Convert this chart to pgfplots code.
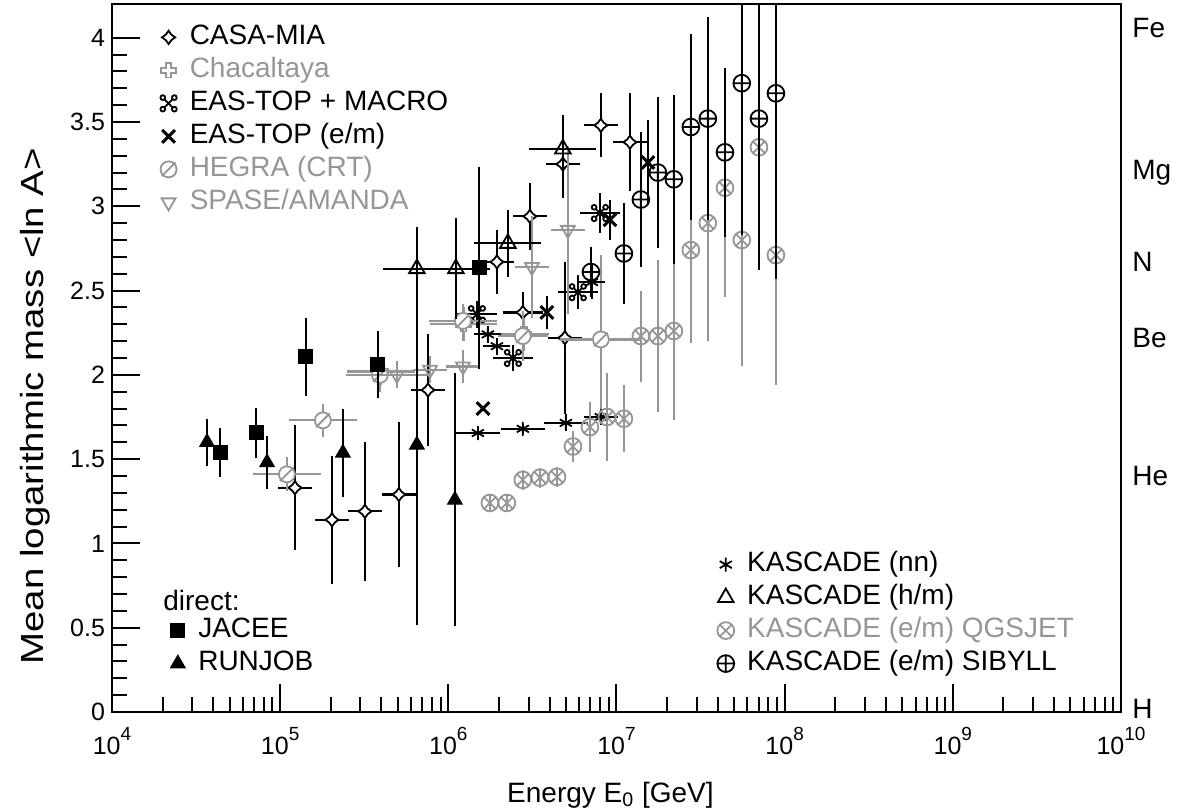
\documentclass[border=0pt]{standalone}
\usepackage{graphicx}
\usepackage{pgfplots}
\pgfplotsset{compat=1.18}
\usepackage{fontspec}
\setmainfont{Liberation Sans}
\usetikzlibrary{plotmarks}
\definecolor{mygray}{RGB}{150,150,150}

\pgfdeclareplotmark{opencross}{%
  \pgfmathsetlengthmacro\mka{\pgfplotmarksize}%
  \pgfmathsetlengthmacro\mkw{0.38*\pgfplotmarksize}%
  \pgfpathmoveto{\pgfpoint{-\mkw}{-\mka}}%
  \pgfpathlineto{\pgfpoint{\mkw}{-\mka}}%
  \pgfpathlineto{\pgfpoint{\mkw}{-\mkw}}%
  \pgfpathlineto{\pgfpoint{\mka}{-\mkw}}%
  \pgfpathlineto{\pgfpoint{\mka}{\mkw}}%
  \pgfpathlineto{\pgfpoint{\mkw}{\mkw}}%
  \pgfpathlineto{\pgfpoint{\mkw}{\mka}}%
  \pgfpathlineto{\pgfpoint{-\mkw}{\mka}}%
  \pgfpathlineto{\pgfpoint{-\mkw}{\mkw}}%
  \pgfpathlineto{\pgfpoint{-\mka}{\mkw}}%
  \pgfpathlineto{\pgfpoint{-\mka}{-\mkw}}%
  \pgfpathlineto{\pgfpoint{-\mkw}{-\mkw}}%
  \pgfpathclose
  \pgfusepathqfillstroke}
\pgfdeclareplotmark{cdiamond}{%
  \pgfmathsetlengthmacro\mka{\pgfplotmarksize}%
  \pgfmathsetlengthmacro\mkw{0.42*\pgfplotmarksize}%
  \pgfpathmoveto{\pgfpoint{0pt}{\mka}}%
  \pgfpathlineto{\pgfpoint{\mkw}{\mkw}}%
  \pgfpathlineto{\pgfpoint{\mka}{0pt}}%
  \pgfpathlineto{\pgfpoint{\mkw}{-\mkw}}%
  \pgfpathlineto{\pgfpoint{0pt}{-\mka}}%
  \pgfpathlineto{\pgfpoint{-\mkw}{-\mkw}}%
  \pgfpathlineto{\pgfpoint{-\mka}{0pt}}%
  \pgfpathlineto{\pgfpoint{-\mkw}{\mkw}}%
  \pgfpathclose
  \pgfusepathqfillstroke}
\pgfdeclareplotmark{oslash}{%
  \pgfpathcircle{\pgfpointorigin}{\pgfplotmarksize}%
  \pgfusepathqfillstroke
  \pgfpathmoveto{\pgfpoint{-0.85\pgfplotmarksize}{-0.85\pgfplotmarksize}}%
  \pgfpathlineto{\pgfpoint{0.85\pgfplotmarksize}{0.85\pgfplotmarksize}}%
  \pgfusepathqstroke}
\pgfdeclareplotmark{cmdkey}{%
  \pgfpathmoveto{\pgfpoint{-0.5\pgfplotmarksize}{-0.5\pgfplotmarksize}}%
  \pgfpathlineto{\pgfpoint{0.5\pgfplotmarksize}{0.5\pgfplotmarksize}}%
  \pgfpathmoveto{\pgfpoint{-0.5\pgfplotmarksize}{0.5\pgfplotmarksize}}%
  \pgfpathlineto{\pgfpoint{0.5\pgfplotmarksize}{-0.5\pgfplotmarksize}}%
  \pgfpathcircle{\pgfpoint{0.72\pgfplotmarksize}{0.72\pgfplotmarksize}}{0.3\pgfplotmarksize}%
  \pgfpathcircle{\pgfpoint{-0.72\pgfplotmarksize}{0.72\pgfplotmarksize}}{0.3\pgfplotmarksize}%
  \pgfpathcircle{\pgfpoint{0.72\pgfplotmarksize}{-0.72\pgfplotmarksize}}{0.3\pgfplotmarksize}%
  \pgfpathcircle{\pgfpoint{-0.72\pgfplotmarksize}{-0.72\pgfplotmarksize}}{0.3\pgfplotmarksize}%
  \pgfusepathqstroke}

\newcommand\ex[1]{10\raisebox{7pt}{\fontsize{9.5}{9.5}\selectfont #1}}

\pgfplotsset{
  base/.style={scale only axis, width=504.5pt, height=354pt,
    xmin=4, xmax=10, ymin=0, ymax=4.2, clip mode=individual},
  eb/.style={error bars/x dir=both, error bars/x explicit,
    error bars/y dir=both, error bars/y explicit,
    error bars/error mark=none,
    error bars/error bar style={line width=1.1pt, #1}},
  eb/.default=black,
  om/.style={only marks,
    legend image code/.code={\draw[mark repeat=2,mark phase=2] plot coordinates {(0pt,0pt)(4pt,0pt)(8pt,0pt)};}},
  leg/.style={legend style={draw=none, fill=none, inner sep=0pt, row sep=1.5pt, column sep=5.5pt,
    font=\fontsize{14}{16}\selectfont,
    nodes={inner sep=1pt, text height=10pt, text depth=3pt}}, legend cell align=left},
}

\begin{document}
\begin{tikzpicture}
\begin{axis}[base, leg,
  legend style={at={(rel axis cs:0.0476,0.9746)}, anchor=north west},
  xtick={4,5,6,7,8,9,10},
  xticklabels={\ex{4},\ex{5},\ex{6},\ex{7},\ex{8},\ex{9},\ex{10}},
  minor xtick={4.30103,4.47712,4.60206,4.69897,4.77815,4.84510,4.90309,4.95424,
    5.30103,5.47712,5.60206,5.69897,5.77815,5.84510,5.90309,5.95424,
    6.30103,6.47712,6.60206,6.69897,6.77815,6.84510,6.90309,6.95424,
    7.30103,7.47712,7.60206,7.69897,7.77815,7.84510,7.90309,7.95424,
    8.30103,8.47712,8.60206,8.69897,8.77815,8.84510,8.90309,8.95424,
    9.30103,9.47712,9.60206,9.69897,9.77815,9.84510,9.90309,9.95424},
  ytick={0,0.5,1,1.5,2,2.5,3,3.5,4},
  minor y tick num=4,
  tick align=inside, xtick pos=left, ytick pos=left,
  major tick length=14pt, minor tick length=7.5pt,
  every tick/.style={black, line width=1pt},
  axis line style={line width=1.4pt},
  /pgf/number format/assume math mode=true,
  tick label style={font=\fontsize{12.5}{14}\selectfont},
  xticklabel style={yshift=-4pt},
  xlabel={Energy E\textsubscript{0} [GeV]},
  xlabel style={font=\fontsize{14}{16}\selectfont, at={(rel axis cs:0.494,0)}, anchor=center, yshift=-41.5pt},
  ylabel={\scalebox{1.2}[1]{Mean logarithmic mass <ln A>}},
  ylabel style={font=\fontsize{16}{18}\selectfont, at={(rel axis cs:0,0.432)}, anchor=center, yshift=38.5pt},
]
% CASA-MIA
\addplot[om, black, mark=cdiamond, mark size=3.3pt, mark options={fill=white, line width=0.9pt}, eb] coordinates {
 (5.088,1.33) +- (0.1,0.37)
 (5.308,1.14) +- (0.1,0.38)
 (5.504,1.19) +- (0.1,0.41)
 (5.706,1.29) +- (0.1,0.43)
 (5.879,1.91) +- (0.1,0.33)
 (6.289,2.67) +- (0.1,0.19)
 (6.485,2.94) +- (0.1,0.20)
 (6.681,3.25) +- (0.1,0.20)
 (6.907,3.48) +- (0.1,0.19)
 (7.080,3.38) +- (0.1,0.29)
 (6.443,2.37) +- (0.12,0.12)
 (6.693,2.22) +- (0.1,0.45)
};
\addlegendentry{CASA-MIA}
% Chacaltaya
\addplot[om, mygray, mark=opencross, mark size=3.6pt, mark options={fill=white, line width=0.9pt}, eb=mygray] coordinates {
 (5.60,2.02) +- (0.2,0.08)
 (6.09,2.30) +- (0.2,0.10)
 (6.45,2.24) +- (0.15,0.10)
};
\addlegendentry[text=mygray]{Chacaltaya}
% EAS-TOP + MACRO
\addplot[om, black, mark=cmdkey, mark size=4pt, mark options={line width=0.9pt}, eb] coordinates {
 (6.170,2.36) +- (0.12,0.08)
 (6.384,2.10) +- (0.12,0.08)
 (6.770,2.49) +- (0.12,0.10)
 (6.901,2.96) +- (0.12,0.12)
};
\addlegendentry{EAS-TOP + MACRO}
% EAS-TOP (e/m)
\addplot[om, black, mark=x, mark size=4.5pt, mark options={line width=1.5pt}, eb] coordinates {
 (6.206,1.80) +- (0,0)
 (6.586,2.37) +- (0,0.10)
 (6.961,2.92) +- (0,0.12)
 (7.187,3.26) +- (0,0.25)
};
\addlegendentry{EAS-TOP (e/m)}
% HEGRA (CRT)
\addplot[om, mygray, mark=oslash, mark size=4pt, mark options={fill=white, line width=0.9pt}, eb=mygray] coordinates {
 (5.040,1.41) +- (0.2,0.10)
 (5.254,1.73) +- (0.2,0.10)
 (5.593,2.00) +- (0.2,0.10)
 (6.087,2.32) +- (0.2,0.10)
 (6.443,2.23) +- (0.15,0.15)
 (6.907,2.21) +- (0.24,0.50)
};
\addlegendentry[text=mygray]{HEGRA (CRT)}
% SPASE/AMANDA
\addplot[om, mygray, mark=triangle, mark size=4pt, mark options={fill=white, line width=0.9pt, rotate=180}, eb=mygray] coordinates {
 (5.694,2.00) +- (0.2,0.08)
 (5.891,2.03) +- (0.1,0.08)
 (6.087,2.05) +- (0.1,0.10)
 (6.497,2.64) +- (0.1,0.30)
 (6.711,2.86) +- (0.1,0.50)
};
\addlegendentry[text=mygray]{SPASE/AMANDA}

\node[anchor=west, inner sep=0pt, xshift=5.5pt, font=\fontsize{14}{16}\selectfont] at (axis cs:10,4.06) {Fe};
\node[anchor=west, inner sep=0pt, xshift=5.5pt, font=\fontsize{14}{16}\selectfont] at (axis cs:10,3.20) {Mg};
\node[anchor=west, inner sep=0pt, xshift=5.5pt, font=\fontsize{14}{16}\selectfont] at (axis cs:10,2.67) {N};
\node[anchor=west, inner sep=0pt, xshift=5.5pt, font=\fontsize{14}{16}\selectfont] at (axis cs:10,2.22) {Be};
\node[anchor=west, inner sep=0pt, xshift=5.5pt, font=\fontsize{14}{16}\selectfont] at (axis cs:10,1.40) {He};
\node[anchor=west, inner sep=0pt, xshift=5.5pt, font=\fontsize{14}{16}\selectfont] at (axis cs:10,0.02) {H};
\node[anchor=west, inner sep=0pt, font=\fontsize{14}{16}\selectfont] at (axis cs:4.303,0.659) {direct:};
\end{axis}

\begin{axis}[base, hide axis, leg,
  legend style={at={(rel axis cs:0.5996,0.0466)}, anchor=south west}]
% KASCADE (nn)
\addplot[om, black, mark=asterisk, mark size=3.5pt, mark options={line width=0.9pt}, eb] coordinates {
 (6.176,1.655) +- (0.13,0.03)
 (6.443,1.68) +- (0.13,0.03)
 (6.699,1.715) +- (0.13,0.05)
 (6.907,1.75) +- (0.10,0.05)
 (6.235,2.24) +- (0.08,0.05)
 (6.289,2.17) +- (0.08,0.05)
 (6.854,2.55) +- (0.08,0.10)
};
\addlegendentry{KASCADE (nn)}
% KASCADE (h/m)
\addplot[om, black, mark=triangle, mark size=4.5pt, mark options={fill=white, line width=0.9pt}, eb] coordinates {
 (5.813,2.63) +- (0.2,0.25)
 (6.045,2.63) +- (0.2,0.30)
 (6.354,2.78) +- (0.2,0.20)
 (6.681,3.34) +- (0.2,0.20)
};
\addlegendentry{KASCADE (h/m)}
% KASCADE (e/m) QGSJET
\addplot[om, mygray, mark=otimes, mark size=4.2pt, mark options={fill=white, line width=0.9pt}, eb=mygray] coordinates {
 (6.247,1.24) +- (0,0.05)
 (6.348,1.24) +- (0,0.05)
 (6.443,1.377) +- (0,0.06)
 (6.545,1.39) +- (0,0.06)
 (6.646,1.395) +- (0,0.06)
 (6.741,1.575) +- (0,0.09)
 (6.842,1.69) +- (0,0.15)
 (6.943,1.75) +- (0,0.26)
 (7.044,1.74) +- (0,0.20)
 (7.145,2.23) +- (0,0.27)
 (7.246,2.23) +- (0,0.45)
 (7.341,2.26) +- (0,0.53)
 (7.442,2.74) +- (0,0.55)
 (7.543,2.90) +- (0,0.70)
 (7.645,3.11) +- (0,0.65)
 (7.745,2.80) +- (0,0.75)
 (7.847,3.35) +- (0,0.70)
 (7.948,2.71) +- (0,0.77)
};
\addlegendentry[text=mygray]{KASCADE (e/m) QGSJET}
% KASCADE (e/m) SIBYLL
\addplot[om, black, mark=oplus, mark size=4.2pt, mark options={fill=white, line width=0.9pt}, eb] coordinates {
 (6.848,2.61) +- (0,0.15)
 (7.044,2.72) +- (0,0.30)
 (7.145,3.04) +- (0,0.40)
 (7.246,3.20) +- (0,0.45)
 (7.341,3.16) +- (0,0.50)
 (7.442,3.47) +- (0,0.55)
 (7.543,3.52) +- (0,0.60)
 (7.645,3.32) +- (0,0.50)
 (7.745,3.73) +- (0,0.90)
 (7.847,3.52) +- (0,0.90)
 (7.948,3.67) +- (0,1.10)
};
\addlegendentry{KASCADE (e/m) SIBYLL}
\end{axis}

\begin{axis}[base, hide axis, leg,
  legend style={at={(rel axis cs:0.0575,0.0466)}, anchor=south west}]
% JACEE
\addplot[om, black, mark=square*, mark size=3.5pt, eb] coordinates {
 (4.642,1.54) +- (0,0.145)
 (4.856,1.656) +- (0,0.15)
 (5.153,2.107) +- (0,0.23)
 (5.581,2.06) +- (0,0.20)
 (6.182,2.635) +- (0,0.60)
};
\addlegendentry{JACEE}
% RUNJOB
\addplot[om, black, mark=triangle*, mark size=4.3pt, eb] coordinates {
 (4.565,1.60) +- (0,0.14)
 (4.922,1.48) +- (0,0.16)
 (5.373,1.537) +- (0,0.26)
 (5.813,1.585) +- (0,1.07)
 (6.039,1.258) +- (0,0.75)
};
\addlegendentry{RUNJOB}
\end{axis}
\pgfresetboundingbox
\useasboundingbox (-56pt,-50pt) rectangle (539pt,356pt);
\end{tikzpicture}
\end{document}
